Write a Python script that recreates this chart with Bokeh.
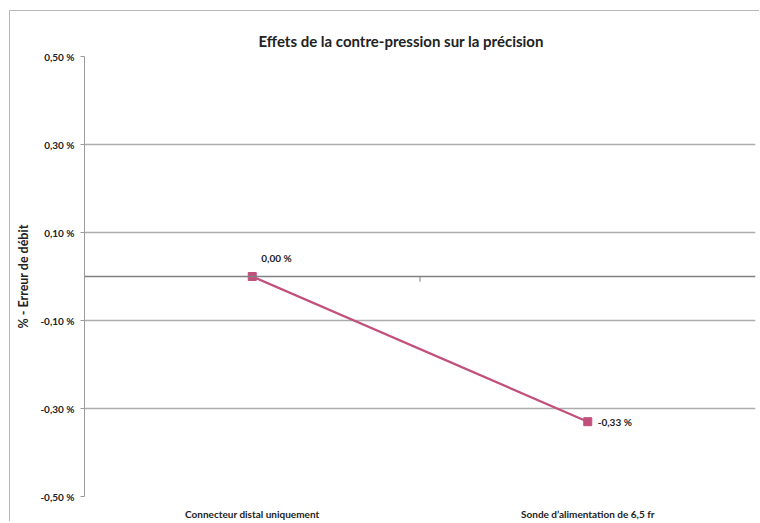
from bokeh.plotting import figure
from bokeh.models import FixedTicker, Span, Range1d, FactorRange, Label
from bokeh.embed import file_html
from bokeh.resources import INLINE

categories = ["Connecteur distal uniquement", "Sonde d\u2019alimentation de 6,5 fr"]
values = [0.00, -0.33]
value_labels = ["0,00 %", "-0,33 %"]
y_ticks = [-0.5, -0.3, -0.1, 0.1, 0.3, 0.5]
y_tick_labels = ["-0,50 %", "-0,30 %", "-0,10 %", "0,10 %", "0,30 %", "0,50 %"]

FONT = "Lato"
LINE_COLOR = "#C2507C"

p = figure(
    width=750, height=511,
    x_range=FactorRange(*categories, range_padding=0),
    y_range=Range1d(-0.5, 0.5),
    output_backend="svg", toolbar_location=None,
    min_border_left=74, min_border_right=5, min_border_top=45, min_border_bottom=25,
)
p.styles = {"margin-left": "9px", "margin-top": "10px",
            "border-left": "1px solid #b8b8b8", "border-top": "1px solid #b8b8b8"}
p.outline_line_color = None

p.title.text = "Effets de la contre-pression sur la précision"
p.title.text_font = FONT
p.title.text_font_size = "15px"
p.title.text_font_style = "bold"
p.title.text_color = "#222222"
p.title.align = "left"
p.title.offset = 174
p.title.standoff = 14

# y axis
p.yaxis.ticker = FixedTicker(ticks=y_ticks)
p.yaxis.major_label_overrides = {t: l for t, l in zip(y_ticks, y_tick_labels)}
p.yaxis.axis_line_color = "#9a9a9a"
p.yaxis.major_tick_line_color = "#9a9a9a"
p.yaxis.major_tick_out = 4
p.yaxis.major_tick_in = 0
p.yaxis.minor_tick_line_color = None
p.yaxis.major_label_standoff = 6
p.yaxis.major_label_text_font = FONT
p.yaxis.major_label_text_font_style = "bold"
p.yaxis.major_label_text_font_size = "10px"
p.yaxis.major_label_text_color = "#222222"
p.yaxis.axis_label = "% - Erreur de débit"
p.yaxis.axis_label_text_font = FONT
p.yaxis.axis_label_text_font_style = "bold"
p.yaxis.axis_label_text_font_size = "12.5px"
p.yaxis.axis_label_text_color = "#222222"
p.yaxis.axis_label_standoff = 6

# x axis
p.xaxis.axis_line_color = None
p.xaxis.major_tick_line_color = None
p.xaxis.minor_tick_line_color = None
p.xaxis.major_label_standoff = 5
p.xaxis.major_label_text_font = FONT
p.xaxis.major_label_text_font_style = "bold"
p.xaxis.major_label_text_font_size = "10px"
p.xaxis.major_label_text_color = "#222222"

# grid
p.xgrid.grid_line_color = None
p.ygrid.ticker = FixedTicker(ticks=y_ticks)
p.ygrid.grid_line_color = "#acacac"
p.ygrid.grid_line_width = 1.4

zero = Span(location=0, dimension="width", line_color="#808080", line_width=1.4)
p.add_layout(zero)
# category divider tick on zero line
p.segment(x0=[1.0], y0=[0.0], x1=[1.0], y1=[-0.012], line_color="#808080", line_width=1)

p.line(categories, values, line_color=LINE_COLOR, line_width=2.2)
p.scatter(categories, values, marker="square", size=8, fill_color=LINE_COLOR, line_color=LINE_COLOR)

offsets = [(9, 19), (10, 0)]
for i, (v, lab) in enumerate(zip(values, value_labels)):
    dx, dy = offsets[i]
    p.add_layout(Label(x=i + 0.5, y=v, text=lab, x_offset=dx, y_offset=dy,
                       text_font=FONT, text_font_style="bold", text_font_size="10px",
                       text_color="#222222", text_baseline="middle", text_align="left"))

open("out.html", "w").write(file_html(p, INLINE))
